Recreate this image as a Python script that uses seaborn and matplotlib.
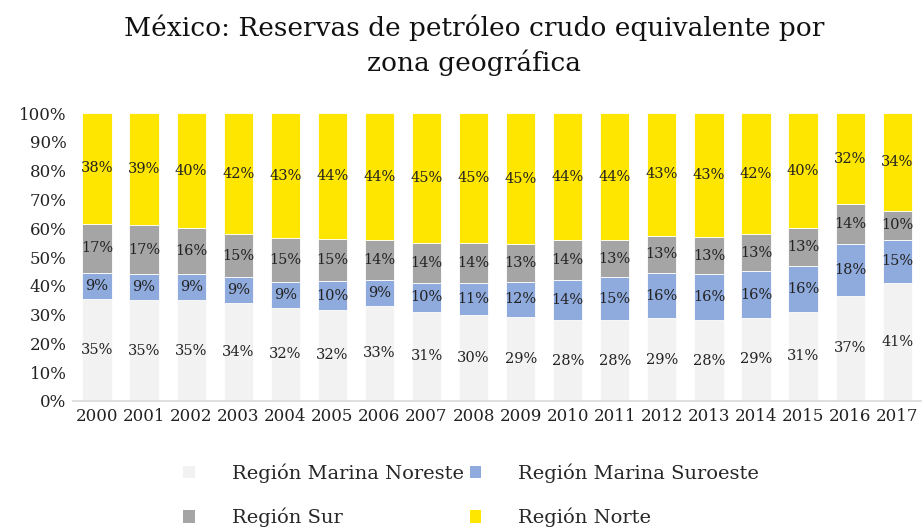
import numpy as np
import pandas as pd
import matplotlib
matplotlib.use("Agg")
import matplotlib.pyplot as plt
import seaborn as sns
from matplotlib.patches import Patch

years = [str(y) for y in range(2000, 2018)]
marina_noreste = [35, 35, 35, 34, 32, 32, 33, 31, 30, 29, 28, 28, 29, 28, 29, 31, 37, 41]
marina_suroeste = [9, 9, 9, 9, 9, 10, 9, 10, 11, 12, 14, 15, 16, 16, 16, 16, 18, 15]
sur = [17, 17, 16, 15, 15, 15, 14, 14, 14, 13, 14, 13, 13, 13, 13, 13, 14, 10]
norte = [38, 39, 40, 42, 43, 44, 44, 45, 45, 45, 44, 44, 43, 43, 42, 40, 32, 34]

regions = ["Región Marina Noreste", "Región Marina Suroeste", "Región Sur", "Región Norte"]
colors = ["#F2F2F2", "#8FAADC", "#A5A5A5", "#FFE600"]

df = pd.DataFrame({"year": years, regions[0]: marina_noreste, regions[1]: marina_suroeste,
                   regions[2]: sur, regions[3]: norte})
totals = df[regions].sum(axis=1)

sns.set_style("white")
plt.rcParams["font.family"] = ["DejaVu Serif"]

fig = plt.figure(figsize=(9.24, 5.29), dpi=100)
ax = fig.add_axes([0.0795, 0.242, 0.917, 0.544])

bottom = np.zeros(len(df))
for reg, col in zip(regions, colors):
    share = (df[reg] / totals * 100).values
    sns.barplot(x=df["year"], y=share, bottom=bottom, color=col, width=0.62, saturation=1,
                edgecolor="white", linewidth=0.6, ax=ax)
    for i, (v, b) in enumerate(zip(df[reg], bottom)):
        ax.text(i, b + share[i] / 2, f"{v}%", ha="center", va="center", fontsize=10.5, color="#222222")
    bottom += share

ax.set_ylim(0, 100)
ax.set_xlim(-0.5, len(df) - 0.5)
ax.set_yticks(range(0, 101, 10))
ax.set_yticklabels([f"{t}%" for t in range(0, 101, 10)])
ax.set_xlabel("")
ax.set_ylabel("")
ax.tick_params(axis="both", labelsize=12, length=0, colors="#222222")
ax.tick_params(axis="x", pad=5)
ax.tick_params(axis="y", pad=5)
for s in ["top", "right", "left"]:
    ax.spines[s].set_visible(False)
ax.spines["bottom"].set_color("#D9D9D9")
ax.spines["bottom"].set_linewidth(1.2)

fig.text(0.513, 0.973, "México: Reservas de petróleo crudo equivalente por\nzona geográfica",
         ha="center", va="top", fontsize=19, color="#111111", linespacing=1.4)

# legend fills column-wise, so order handles to read row-wise like the original
order = [0, 2, 1, 3]
handles = [Patch(facecolor=colors[k], edgecolor="none") for k in order]
labels = [regions[k] for k in order]
fig.legend(handles, labels, loc="lower center", bbox_to_anchor=(0.51, -0.03), ncol=2,
           frameon=False, fontsize=14, handlelength=0.6, handleheight=0.6,
           columnspacing=0.3, handletextpad=1.9, labelspacing=1.3)

fig.savefig("out.png", dpi=100)
